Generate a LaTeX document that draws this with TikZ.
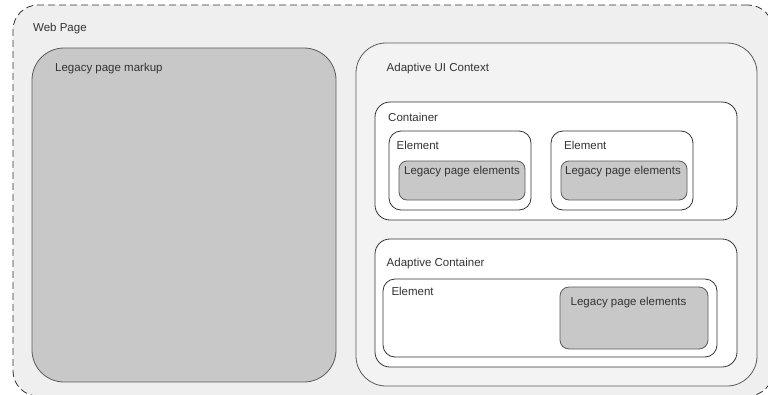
\documentclass[tikz,border=0pt]{standalone}
\usepackage{fontspec}
\setmainfont{Liberation Sans}
\usetikzlibrary{positioning}
\definecolor{pagebg}{HTML}{EFEFEF}
\definecolor{ctxbg}{HTML}{F3F3F3}
\definecolor{legacybg}{HTML}{C8C8C8}
\definecolor{edge}{HTML}{5A5A5A}
\definecolor{ink}{HTML}{333333}
\tikzset{box/.style={draw=edge, line width=0.8pt, anchor=north west, inner sep=0pt, outer sep=0pt}}
\tikzset{pagebox/.style={box, draw=ink, dashed, dash pattern=on 7pt off 4pt, fill=pagebg, rounded corners=25pt}}
\tikzset{legacy/.style={box, fill=legacybg}}
\tikzset{plain/.style={box, fill=white, draw=ink}}
\tikzset{lbl/.style={anchor=base west, inner sep=0pt, text=ink, font=\fontsize{11.5}{13}\selectfont}}

\begin{document}
\begin{tikzpicture}[x=1pt,y=-1pt]
\useasboundingbox (0,0) rectangle (768,394);

% outer page (runs past the right and bottom edges)
\node[pagebox, minimum width=760pt, minimum height=391pt] (page) at (13,5) {};
\node[lbl] (pageLbl) at (33,31.5) {Web Page};

% left column
\node[legacy, rounded corners=32pt, minimum width=304pt, minimum height=334pt] (markup) at (32,48) {};
\node[lbl] (markupLbl) at (55,71) {Legacy page markup};

% adaptive context
\node[box, fill=ctxbg, rounded corners=30pt, minimum width=401pt, minimum height=343pt] (ctx) at (356,43) {};
\node[lbl] (ctxLbl) at (386.5,71.5) {Adaptive UI Context};

% plain container with two elements
\node[plain, rounded corners=15pt, minimum width=362pt, minimum height=118pt] (cont) at (375,102) {};
\node[lbl] (contLbl) at (388,121) {Container};

\node[plain, rounded corners=12pt, minimum width=142pt, minimum height=79pt] (elemA) at (389,131) {};
\node[lbl] (elemALbl) at (396.5,149.3) {Element};
\node[legacy, rounded corners=8pt, minimum width=126pt, minimum height=39pt] (legA) at (399,161) {};
\node[lbl, anchor=base] (legALbl) at (462,174) {Legacy page elements};

\node[plain, rounded corners=12pt, minimum width=142pt, minimum height=79pt] (elemB) at (551,131) {};
\node[lbl] (elemBLbl) at (564,149.3) {Element};
\node[legacy, rounded corners=8pt, minimum width=126pt, minimum height=39pt] (legB) at (561,161) {};
\node[lbl, anchor=base] (legBLbl) at (623,174) {Legacy page elements};

% adaptive container
\node[plain, rounded corners=15pt, minimum width=362pt, minimum height=128pt] (acont) at (375,239) {};
\node[lbl] (acontLbl) at (386.5,266.3) {Adaptive Container};

\node[plain, rounded corners=12pt, minimum width=334pt, minimum height=78pt] (elemC) at (383,279) {};
\node[lbl] (elemCLbl) at (391.3,295.7) {Element};
\node[legacy, rounded corners=9pt, minimum width=148pt, minimum height=62pt] (legC) at (560,287) {};
\node[lbl] (legCLbl) at (570.5,305.7) {Legacy page elements};
\end{tikzpicture}
\end{document}
